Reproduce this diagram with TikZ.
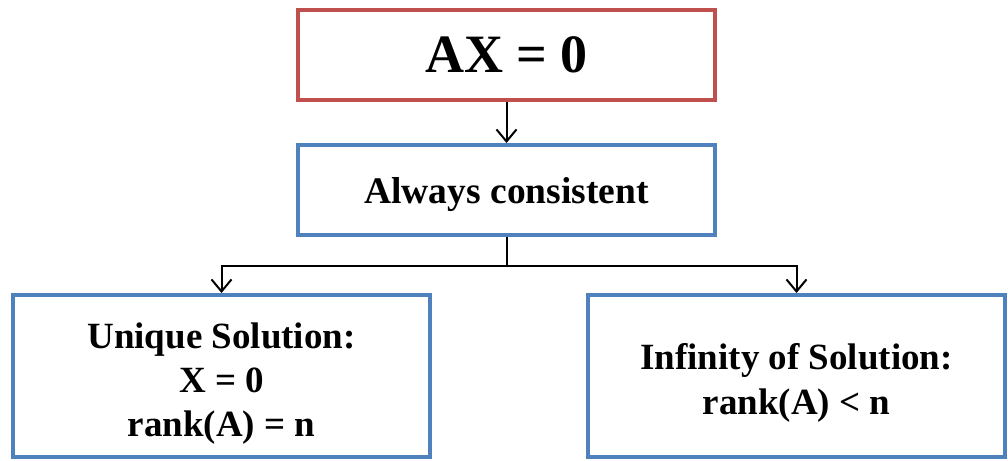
\documentclass[tikz,border=0pt]{standalone}
\usepackage{fontspec}
\setmainfont{Liberation Serif}
\usetikzlibrary{arrows.meta}
\definecolor{boxred}{HTML}{C0504D}
\definecolor{boxblue}{HTML}{4F81BD}
\begin{document}
\begin{tikzpicture}[x=1pt,y=-1pt,
  box/.style={draw, line width=4pt, rectangle, minimum width=417pt, inner sep=0pt},
  txt/.style={align=center, inner sep=0pt},
  conn/.style={line width=2pt, -{Straight Barb[length=12pt,width=20pt,line width=2pt]}},
  line/.style={line width=2pt}]
\useasboundingbox (0,0) rectangle (1008,460);
\node[box, draw=boxred, minimum height=90pt] (top) at (506.5,55) {};
\node[box, draw=boxblue, minimum height=90pt] (mid) at (506.5,190) {};
\node[box, draw=boxblue, minimum height=162pt] (left) at (221.5,376) {};
\node[box, draw=boxblue, minimum height=162pt] (right) at (796.5,376) {};
\node[txt, font=\bfseries\fontsize{54}{60}\selectfont] (toptext) at (top.center) {AX = 0};
\node[txt, font=\bfseries\fontsize{37.5}{42}\selectfont] (midtext) at ([yshift=-5pt]mid.center) {Always consistent};
\node[txt, font=\bfseries\fontsize{37}{44}\selectfont] (lefttext) at ([yshift=-8pt]left.center) {Unique Solution:\\X = 0\\rank(A) = n};
\node[txt, font=\bfseries\fontsize{37}{45}\selectfont] (righttext) at ([yshift=-7pt]right.center) {Infinity of Solution:\\rank(A) < n};
\draw[conn] (top.south) -- (mid.north);
\draw[line] (mid.south) -- ++(0,29) coordinate (j);
\draw[conn] (j) -| (left.north);
\draw[conn] (j) -| (right.north);
\end{tikzpicture}
\end{document}
